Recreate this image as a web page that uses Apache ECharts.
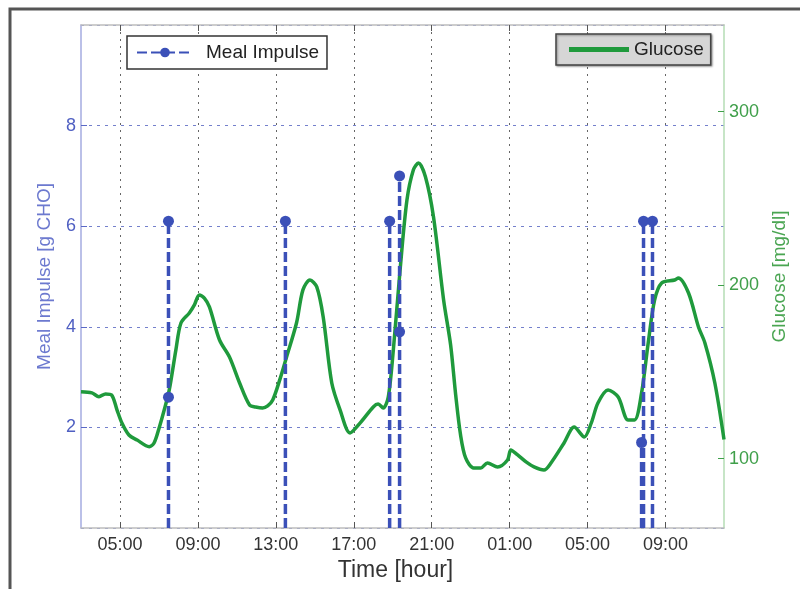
<!DOCTYPE html>
<html><head><meta charset="utf-8">
<script src="https://cdn.jsdelivr.net/npm/echarts@6/dist/echarts.min.js"></script>
<style>html,body{margin:0;padding:0;background:#fff}#c{width:800px;height:589px}</style>
</head><body><div id="c"></div>
<script>
// ---- data ----
const xTickValues = [5, 9, 13, 17, 21, 25, 29, 33];   // hours from start-day midnight
const rightTickValues = [100, 200, 300];

const glucoseTime = [3.0, 3.56, 3.92, 4.26, 4.57, 4.85, 5.10, 5.46, 5.88, 6.50, 6.75, 7.01, 7.27, 7.53,
  7.87, 8.13, 8.56, 8.82, 9.07, 9.33, 9.59, 10.11, 10.62, 11.14, 11.65, 11.96, 12.32, 12.58, 12.84,
  13.20, 13.55, 14.06, 14.39, 14.75, 15.10, 15.43, 15.87, 16.30, 16.81, 17.33, 18.00, 18.25, 18.51,
  18.77, 19.03, 19.39, 19.73, 20.06, 20.32, 20.68, 21.09, 21.61, 21.97, 22.23, 22.48, 22.74, 23.15,
  23.52, 23.86, 24.38, 24.89, 25.06, 25.41, 25.84, 26.25, 26.76, 27.12, 27.79, 28.31, 28.83, 29.19,
  29.53, 30.05, 30.57, 31.08, 31.41, 31.77, 32.11, 32.44, 32.80, 33.47, 33.66, 34.18, 34.69, 35.02,
  35.53, 36.0];
const glucoseValue = [138.6, 137.9, 135.7, 137.3, 136.7, 128.0, 120.5, 113.6, 110.7, 106.9, 109.0, 117.7, 128.0, 139.6,
  162.7, 178.2, 184.0, 188.6, 194.4, 192.6, 187.5, 168.4, 158.6, 143.6, 130.9, 129.8, 129.2, 130.4, 133.8,
  145.4, 158.6, 178.2, 197.3, 203.0, 199.0, 181.7, 143.6, 128.0, 114.8, 120.6, 129.8, 131.5, 129.2,
  135.5, 162.7, 210.5, 249.2, 266.5, 270.5, 262.4, 239.4, 191.5, 165.5, 136.7, 113.6, 100.4, 94.6,
  94.6, 97.5, 95.2, 99.2, 105.0, 102.1, 98.1, 95.2, 93.4, 97.5, 109.0, 118.2, 112.5, 120.6,
  132.1, 139.6, 135.5, 122.3, 122.3, 137.9, 166.7, 191.5, 201.3, 203.0, 204.2, 195.5, 175.9, 166.7,
  143.6, 111.0];

const mealTime  = [7.49, 7.49, 13.49, 18.84, 19.35, 19.35, 31.77, 31.87, 32.33];
const mealValue = [6.1, 2.6, 6.1, 6.1, 7.0, 3.9, 1.7, 6.1, 6.1];

// ---- build ----
function hourLabel(v) {
  const h = ((Math.round(v) % 24) + 24) % 24;
  return (h < 10 ? '0' : '') + h + ':00';
}
const glucoseData = glucoseTime.map((t, i) => [t, glucoseValue[i]]);
const mealData = [];
mealTime.forEach((t, i) => { mealData.push([t, 0], [t, mealValue[i]], [t, '-']); });

const FONT = '"Liberation Sans", Arial, Helvetica, sans-serif';
const BLUE = '#3b50b8';
const GREEN = '#1f9a3c';

const chart = echarts.init(document.getElementById('c'), null, { renderer: 'canvas' });
chart.setOption({
  animation: false,
  backgroundColor: '#fff',
  textStyle: { fontFamily: FONT },
  grid: { left: 81, top: 25, right: 76, bottom: 61, containLabel: false },
  legend: [
    {
      data: ['Meal Impulse'], left: 127, top: 36,
      padding: [7, 8, 7, 9], itemWidth: 56, itemHeight: 12, itemGap: 0,
      backgroundColor: '#fff', borderColor: '#333', borderWidth: 1.5,
      textStyle: { fontSize: 19, fontFamily: FONT, color: '#222', padding: [0, 0, 0, 8] }
    },
    {
      data: [{ name: 'Glucose', icon: 'rect' }], left: 556, top: 34,
      padding: [6, 7, 6, 13], itemWidth: 60, itemHeight: 5, itemGap: 0,
      backgroundColor: '#d6d6d6', borderColor: '#444', borderWidth: 1.5,
      shadowColor: 'rgba(0,0,0,0.35)', shadowBlur: 2, shadowOffsetX: 1, shadowOffsetY: 1,
      itemStyle: { color: GREEN },
      textStyle: { fontSize: 19, fontFamily: FONT, color: '#222' }
    }
  ],
  xAxis: [
    {
      type: 'value', min: 3, max: 36, position: 'bottom',
      axisLine: { show: true, onZero: false, lineStyle: { color: '#bdbdbd', width: 1.5 } },
      axisTick: { show: true, inside: true, length: 6, customValues: xTickValues, lineStyle: { color: '#555' } },
      axisLabel: { customValues: xTickValues, formatter: hourLabel, fontSize: 18, color: '#333', margin: 8, fontFamily: FONT },
      splitLine: { show: true, lineStyle: { type: [2, 5], color: '#666', width: 1 } },
      name: 'Time [hour]', nameLocation: 'middle', nameGap: 27,
      nameTextStyle: { fontSize: 23, color: '#333', fontFamily: FONT, padding: [0, 14, 0, 0] }
    },
    {
      type: 'value', min: 3, max: 36, position: 'top',
      axisLine: { show: true, onZero: false, lineStyle: { color: '#bdbdbd', width: 1.5 } },
      axisTick: { show: true, inside: true, length: 6, customValues: xTickValues, lineStyle: { color: '#555' } },
      axisLabel: { show: false },
      splitLine: { show: false }
    }
  ],
  yAxis: [
    {
      type: 'value', min: 0, max: 10, interval: 2, position: 'left',
      axisLine: { show: true, onZero: false, lineStyle: { color: '#a4abe0', width: 1.5 } },
      axisTick: { show: true, inside: true, length: 6, lineStyle: { color: '#5a68c6' } },
      axisLabel: { showMinLabel: false, showMaxLabel: false, fontSize: 18, color: '#4f5fc2', margin: 5, fontFamily: FONT },
      splitLine: { show: true, lineStyle: { type: [3, 5], color: '#7480cc', width: 1 } },
      name: 'Meal Impulse [g CHO]', nameLocation: 'middle', nameGap: 27, nameRotate: 90,
      nameTextStyle: { fontSize: 19, color: '#6c79cf', fontFamily: FONT }
    },
    {
      type: 'value', min: 60, max: 350, position: 'right',
      axisLine: { show: true, onZero: false, lineStyle: { color: '#b5ddb5', width: 1.5 } },
      axisTick: { show: true, inside: true, length: 6, customValues: rightTickValues, lineStyle: { color: '#3f9f4a' } },
      axisLabel: { customValues: rightTickValues, fontSize: 18, color: '#3f9f4a', margin: 5, fontFamily: FONT },
      splitLine: { show: false },
      name: 'Glucose [mg/dl]', nameLocation: 'middle', nameGap: 45, nameRotate: 90,
      nameTextStyle: { fontSize: 19, color: '#4aa552', fontFamily: FONT }
    }
  ],
  series: [
    {
      name: 'Glucose', type: 'line', xAxisIndex: 0, yAxisIndex: 1,
      data: glucoseData, symbol: 'none', smooth: 0.3,
      lineStyle: { width: 3.5, color: GREEN }, itemStyle: { color: GREEN }, z: 3
    },
    {
      name: 'Meal Impulse', type: 'line', xAxisIndex: 0, yAxisIndex: 0,
      data: mealData, connectNulls: false, showAllSymbol: true,
      symbol: 'circle', symbolSize: (v) => (v[1] > 0 ? 11 : 0),
      lineStyle: { type: [10, 4], width: 3.5, color: BLUE }, itemStyle: { color: BLUE }, z: 4
    }
  ],
  graphic: [
    {
      type: 'polyline', silent: true,
      shape: { points: [[10, 589], [10, 9], [800, 9]] },
      style: { stroke: '#555', lineWidth: 3, fill: null }
    }
  ]
});
</script>
</body></html>
